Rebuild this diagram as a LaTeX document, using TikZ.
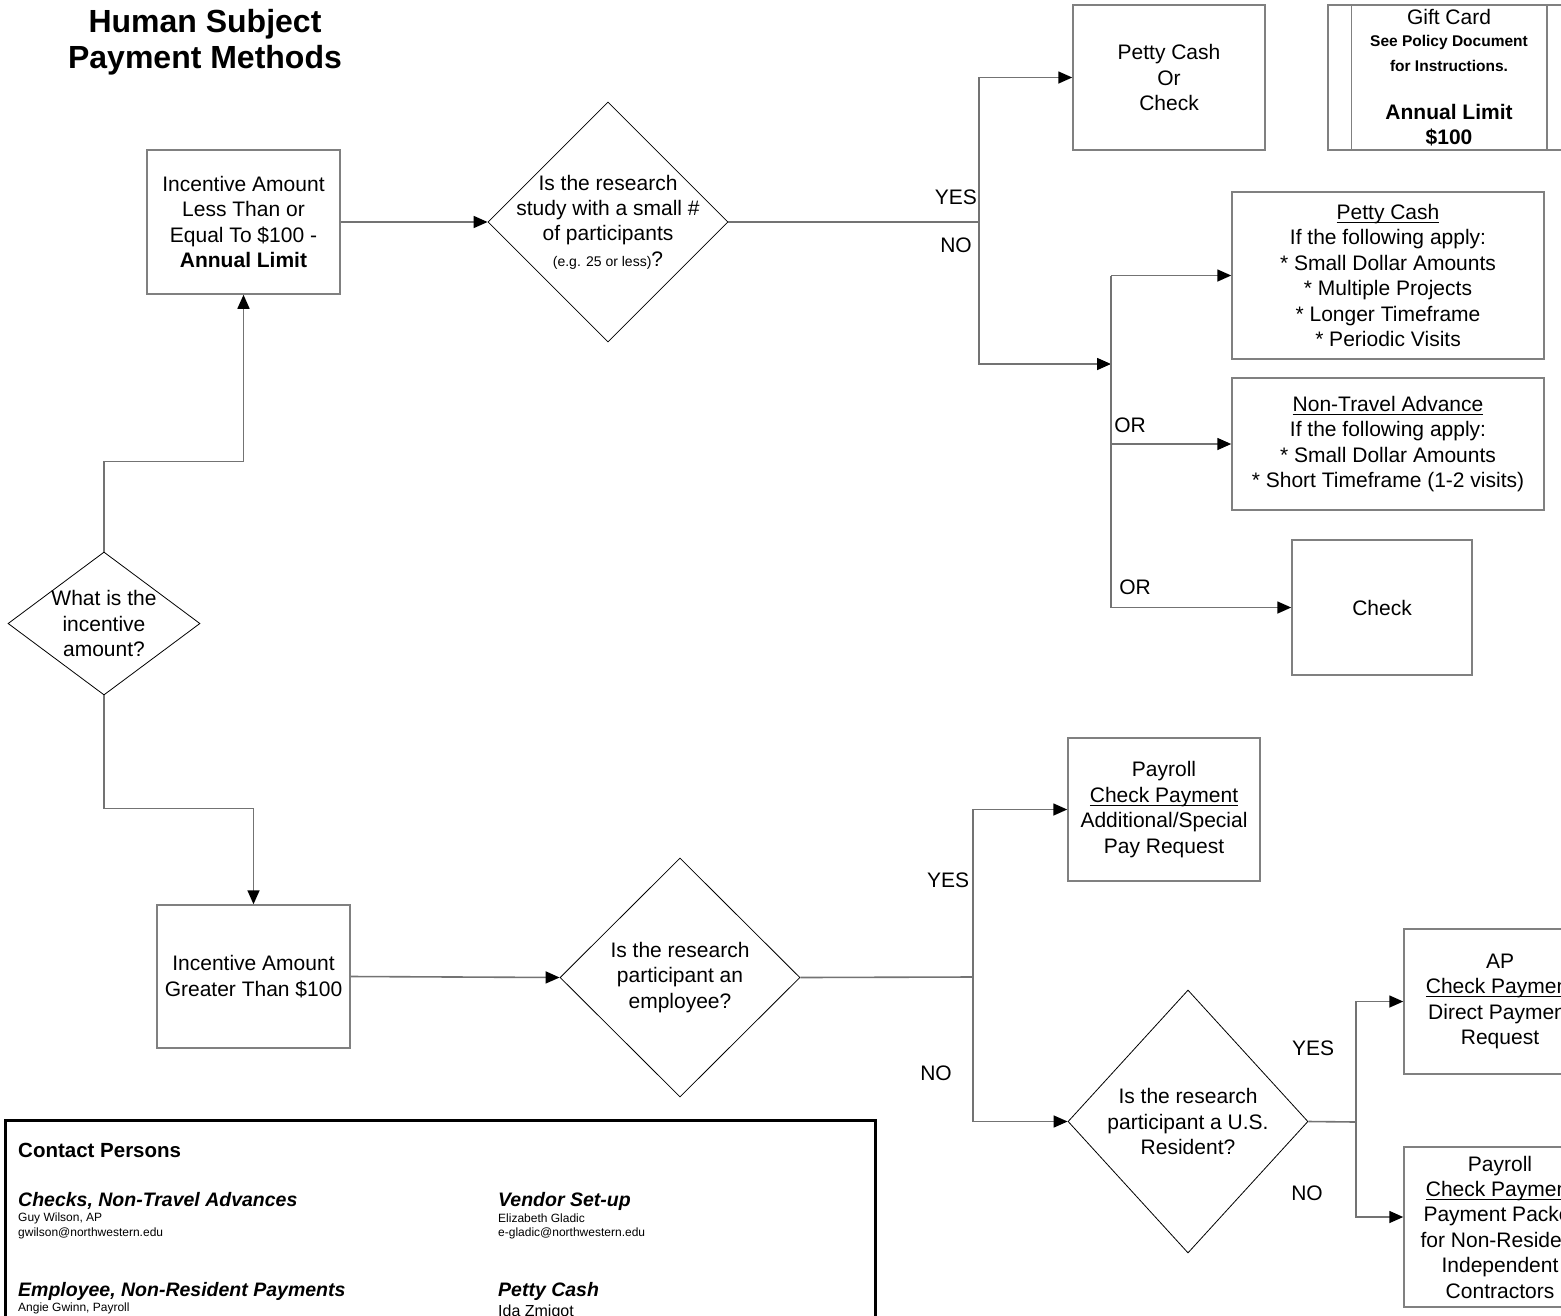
\documentclass[tikz,border=0pt]{standalone}
\usepackage{amsmath}
\usepackage{fontspec}
\setmainfont{Liberation Sans}
\usetikzlibrary{shapes.geometric,arrows.meta}
\newcommand\undl[1]{\underline{\smash[b]{#1}}\vphantom{#1}}

\begin{document}
\begin{tikzpicture}[x=1pt, y=-1pt,
	every node/.style={font=\fontsize{21}{25.4}\selectfont},
	box/.style={draw=black!50, line width=1.5pt, align=center, inner sep=0pt},
	decision/.style={diamond, draw=black, line width=0.8pt, inner sep=0pt},
	conn/.style={draw=black!55, line width=1.6pt},
	arr/.style={conn, -{Triangle[length=14pt, width=12pt, color=black]}},
	lbl/.style={inner sep=0pt},
	contact/.style={inner sep=0pt, anchor=west, font=\fontsize{12}{14}\selectfont},
	contacthead/.style={inner sep=0pt, anchor=west, font=\fontsize{19.5}{22}\selectfont\bfseries\itshape}]
		\useasboundingbox (0,0) rectangle (1561,1315);
		
		\node[font=\fontsize{32}{36}\selectfont\bfseries, align=center] (title) at (205,42) {Human Subject\\Payment Methods};
		
		\node[box, minimum width=193pt, minimum height=144pt] (less) at (243.5,222) {Incentive Amount\\Less Than or\\Equal To \$100 -\\\textbf{Annual Limit}};
		\node[decision, minimum width=240pt, minimum height=240pt, label={[align=center]center:{Is the research\\study with a small \#\\of participants\\{\fontsize{14}{25}\selectfont(e.g. 25 or less)}?}}] (small) at (608,222) {};
		\node[decision, minimum width=192pt, minimum height=143pt, label={[align=center]center:{What is the\\incentive\\amount?}}] (amount) at (104,623.5) {};
		\node[box, minimum width=193pt, minimum height=143pt] (more) at (253.5,976.5) {Incentive Amount\\Greater Than \$100};
		\node[decision, minimum width=240pt, minimum height=239pt, label={[align=center]center:{Is the research\\participant an\\employee?}}] (employee) at (680,977.5) {};
		
		\node[box, minimum width=192pt, minimum height=145pt] (pettyorcheck) at (1169,77.5) {Petty Cash\\Or\\Check};
		\node[box, minimum width=242pt, minimum height=145pt] (giftcard) at (1449,77.5) {Gift Card\\[-3pt]{\fontsize{15.5}{24}\selectfont\bfseries See Policy Document}\\{\fontsize{15.5}{24}\selectfont\bfseries for Instructions.}\\[22pt]\textbf{Annual Limit}\\\textbf{\$100}};
		\draw[draw=black!50, line width=1.5pt] ([xshift=24pt]giftcard.north west) -- ([xshift=24pt]giftcard.south west);
		\draw[draw=black!50, line width=1.5pt] ([xshift=-24pt]giftcard.north east) -- ([xshift=-24pt]giftcard.south east);
		\node[box, minimum width=312pt, minimum height=167pt] (pettycash) at (1388,275.5) {\undl{Petty Cash}\\If the following apply:\\* Small Dollar Amounts\\* Multiple Projects\\* Longer Timeframe\\* Periodic Visits};
		\node[box, minimum width=312pt, minimum height=132pt] (advance) at (1388,444) {\undl{Non-Travel Advance}\\If the following apply:\\* Small Dollar Amounts\\* Short Timeframe (1-2 visits)};
		\node[box, minimum width=180pt, minimum height=135pt] (check) at (1382,607.5) {Check};
		
		\node[box, minimum width=192pt, minimum height=143pt] (payroll) at (1164,809.5) {Payroll\\\undl{Check Payment}\\Additional/Special\\Pay Request};
		\node[decision, minimum width=240pt, minimum height=263pt, label={[align=center]center:{Is the research\\participant a U.S.\\Resident?}}] (resident) at (1188,1121.5) {};
		\node[box, minimum width=192pt, minimum height=145pt] (ap) at (1500,1001.5) {AP\\\undl{Check Payment}\\Direct Payment\\Request};
		\node[box, minimum width=192pt, minimum height=160pt] (nonresident) at (1500,1227) {Payroll\\\undl{Check Payment}\\Payment Packet\\for Non-Resident\\Independent\\Contractors};
		
		\coordinate (split1) at (979,222);
		\coordinate (split2) at (1111,364);
		\coordinate (split3) at (973,977);
		\coordinate (split4) at (1356,1122);
		
		\draw[arr] (amount.north) -- ++(0,-90) -| (less.south);
		\draw[arr] (amount.south) -- ++(0,113) -| (more.north);
		\draw[arr] (less.east) -- (small.west);
		\draw[conn] (small.east) -- (split1);
		\draw[arr] (split1) |- (pettyorcheck.west);
		\draw[arr] (split1) |- (split2);
		\draw[conn] (split2 |- pettycash.west) -- (split2 |- check.west);
		\draw[arr] (split2 |- pettycash.west) -- (pettycash.west);
		\draw[arr] (split2 |- advance.west) -- (advance.west);
		\draw[arr] (split2 |- check.west) -- (check.west);
		
		\draw[arr] (more.east) -- (employee.west);
		\draw[conn] (employee.east) -- (split3);
		\draw[arr] (split3) |- (payroll.west);
		\draw[arr] (split3) |- (resident.west);
		\draw[conn] (resident.east) -- (split4);
		\draw[arr] (split4) |- (ap.west);
		\draw[arr] (split4) |- ([yshift=10pt]nonresident.west);
		
		\node[lbl, anchor=east] (yes1) at (977,197) {YES};
		\node[lbl] (no1) at (956,245) {NO};
		\node[lbl] (or1) at (1130,425) {OR};
		\node[lbl] (or2) at (1135,587) {OR};
		\node[lbl] (yes2) at (948,880) {YES};
		\node[lbl] (no2) at (936,1073) {NO};
		\node[lbl] (yes3) at (1313,1048) {YES};
		\node[lbl] (no3) at (1307,1193) {NO};
		
		\draw[line width=3pt] (5,1120) rectangle (875,1340);
		\node[contacthead, font=\fontsize{20.5}{22}\selectfont\bfseries] (contacts) at (18,1150) {Contact Persons};
		\node[contacthead] (checkshead) at (18,1201) {Checks, Non-Travel Advances};
		\node[contact] (checksname) at (18,1218) {Guy Wilson, AP};
		\node[contact] (checksmail) at (18,1233) {gwilson@northwestern.edu};
		\node[contacthead] (payhead) at (18,1291) {Employee, Non-Resident Payments};
		\node[contact] (payname) at (18,1308) {Angie Gwinn, Payroll};
		\node[contacthead] (vendorhead) at (498,1201) {Vendor Set-up};
		\node[contact] (vendorname) at (498,1218) {Elizabeth Gladic};
		\node[contact] (vendormail) at (498,1233) {e-gladic@northwestern.edu};
		\node[contacthead] (pettyhead) at (498,1291) {Petty Cash};
		\node[contact, font=\fontsize{16}{18}\selectfont] (pettyname) at (498,1312) {Ida Zmigot};
\end{tikzpicture}
\end{document}
